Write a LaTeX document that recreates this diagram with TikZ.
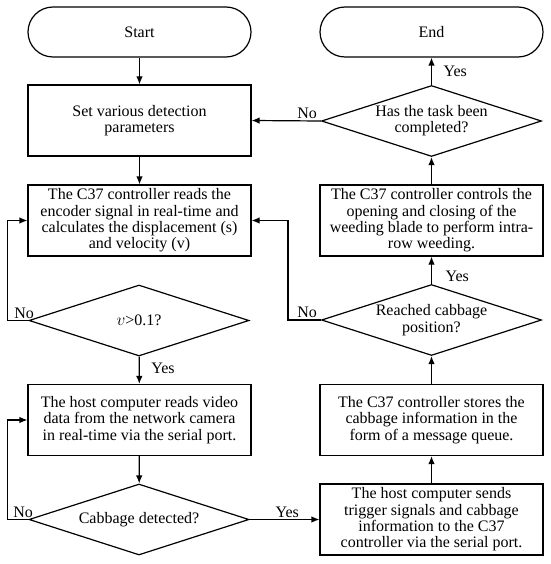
\documentclass[tikz,border=0pt]{standalone}
\usepackage{fontspec}
\setmainfont{Liberation Serif}
\usetikzlibrary{shapes.geometric,arrows.meta}

\begin{document}
\begin{tikzpicture}[x=1pt,y=-1pt,line width=1.2pt,font=\fontsize{16}{16.3}\selectfont,
  box/.style={draw,minimum width=223pt,minimum height=71pt,inner sep=1pt,align=center},
  term/.style={draw,rounded corners=25pt,minimum width=223pt,minimum height=50pt},
  dec/.style={draw,diamond,aspect=3.1,inner sep=-5pt,minimum width=220pt,minimum height=71pt,align=center},
  arr/.style={-{Latex[length=8pt,width=6.5pt]}},
  lab/.style={inner sep=1.5pt}]
  \useasboundingbox (0,0) rectangle (550,564);
  % left column (top to bottom)
  \node[term] (start) at (139.5,32) {Start};
  \node[box] (set) at (139.5,120.5) {Set various detection\\parameters};
  \node[box] (reads) at (139.5,220.5) {The C37 controller reads the\\encoder signal in real-time and\\calculates the displacement (s)\\and velocity (v)};
  \node[dec] (vdec) at (139,320.5) {$v$>0.1?};
  \node[box] (host) at (139.5,420) {The host computer reads video\\data from the network camera\\in real-time via the serial port.};
  \node[dec] (detect) at (139,519.5) {Cabbage detected?};
  % right column (bottom to top)
  \node[box] (sends) at (431.5,519.5) {The host computer sends\\trigger signals and cabbage\\information to the C37\\controller via the serial port.};
  \node[box] (stores) at (431.5,420) {The C37 controller stores the\\cabbage information in the\\form of a message queue.};
  \node[dec] (reached) at (431.5,320) {Reached cabbage\\position?};
  \node[box] (controls) at (431.5,220.5) {The C37 controller controls the\\opening and closing of the\\weeding blade to perform intra-\\row weeding.};
  \node[dec] (task) at (431.5,121) {Has the task been\\completed?};
  \node[term] (end) at (431.5,32) {End};

  \foreach \a/\b in {start/set,set/reads,host/detect,sends/stores,stores/reached,controls/task}
    \draw[arr] (\a) -- (\b);

  \draw[arr] (vdec) -- node[lab,right=10pt,pos=0.43] (yv) {Yes} (host);
  \draw[arr] (reached) -- node[lab,right=12pt,pos=0.28] (yr) {Yes} (controls);
  \draw[arr] (task) -- node[lab,right=10pt,pos=0.5] (yt) {Yes} (end);
  \draw[arr] (detect.east) -- node[lab,above,pos=0.54] (yd) {Yes} (sends.west);
  \draw[arr] (task.west) -- node[lab,above,pos=0.2] (nt) {No} (set.east);
  \draw[arr] (vdec.west) -- node[lab,above,pos=0.2] (nv) {No} ++(-21,0) |- (reads.west);
  \draw[arr] (detect.west) -- node[lab,above,pos=0.25] (nd) {No} ++(-21,0) |- (host.west);
  \draw[arr] (reached.west) -- node[lab,above,pos=0.42] (nr) {No} ++(-33,0) |- (reads.east);
\end{tikzpicture}
\end{document}
